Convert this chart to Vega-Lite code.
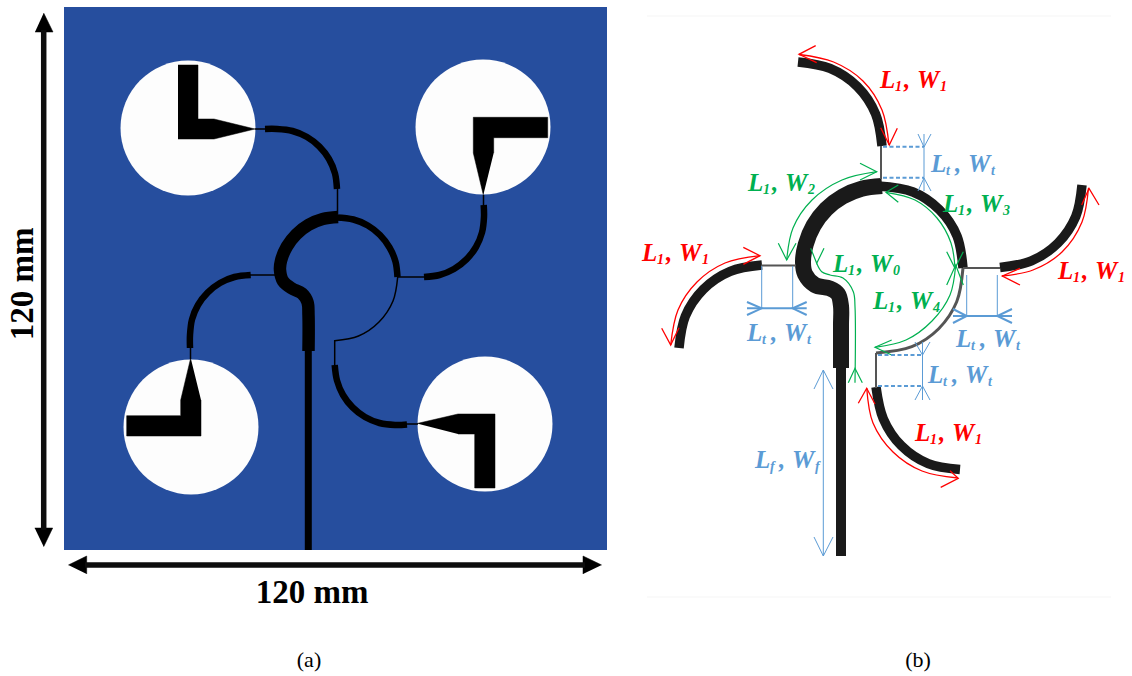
{
"$schema":"https://vega.github.io/schema/vega-lite/v6.json",
"width":1132,"height":676,"padding":0,"autosize":{"type":"none"},
"background":"#ffffff",
"config":{"view":{"stroke":null}},
"datasets":{
"board":[{"x":64,"x2":607,"y":7,"y2":550}],
"discs":[{"x":188,"y":128},{"x":483,"y":127},{"x":191,"y":427},{"x":485,"y":424}],
"shapes":[
{"p":"tl","i":0,"x":178,"y":65},{"p":"tl","i":1,"x":198,"y":65},{"p":"tl","i":2,"x":198,"y":119},{"p":"tl","i":3,"x":214,"y":119},{"p":"tl","i":4,"x":255,"y":129},{"p":"tl","i":5,"x":214,"y":139},{"p":"tl","i":6,"x":178,"y":139},
{"p":"tr","i":0,"x":483.3,"y":195},{"p":"tr","i":1,"x":473.3,"y":153},{"p":"tr","i":2,"x":473.3,"y":117.3},{"p":"tr","i":3,"x":547.7,"y":117.3},{"p":"tr","i":4,"x":547.7,"y":137.7},{"p":"tr","i":5,"x":493.7,"y":137.7},{"p":"tr","i":6,"x":493.7,"y":153},
{"p":"bl","i":0,"x":190.7,"y":358},{"p":"bl","i":1,"x":180.7,"y":400},{"p":"bl","i":2,"x":180.7,"y":415.7},{"p":"bl","i":3,"x":126.7,"y":415.7},{"p":"bl","i":4,"x":126.7,"y":436},{"p":"bl","i":5,"x":201,"y":436},{"p":"bl","i":6,"x":201,"y":400},
{"p":"br","i":0,"x":417,"y":423.5},{"p":"br","i":1,"x":458,"y":414},{"p":"br","i":2,"x":495,"y":414},{"p":"br","i":3,"x":495,"y":488},{"p":"br","i":4,"x":474.7,"y":488},{"p":"br","i":5,"x":474.7,"y":434},{"p":"br","i":6,"x":458,"y":434},
{"p":"au","i":0,"x":43.7,"y":13},{"p":"au","i":1,"x":53,"y":32},{"p":"au","i":2,"x":35,"y":32},
{"p":"ad","i":0,"x":43.7,"y":546.7},{"p":"ad","i":1,"x":52.7,"y":528},{"p":"ad","i":2,"x":34.7,"y":528},
{"p":"al","i":0,"x":68.3,"y":565},{"p":"al","i":1,"x":86.7,"y":556},{"p":"al","i":2,"x":86.7,"y":574},
{"p":"ar","i":0,"x":601.7,"y":565},{"p":"ar","i":1,"x":583,"y":556},{"p":"ar","i":2,"x":583,"y":574}
],
"curves":[
{"p":"a1","k":"a_arc","i":0,"x":265,"y":129},{"p":"a1","k":"a_arc","i":1,"x":277,"y":129},{"p":"a1","k":"a_arc","i":2,"x":292.5,"y":131},{"p":"a1","k":"a_arc","i":3,"x":307,"y":137},{"p":"a1","k":"a_arc","i":4,"x":319.4,"y":146.6},{"p":"a1","k":"a_arc","i":5,"x":329,"y":159},{"p":"a1","k":"a_arc","i":6,"x":335,"y":173.5},{"p":"a1","k":"a_arc","i":7,"x":337,"y":189},
{"p":"a2","k":"a_arc","i":0,"x":483.7,"y":205},{"p":"a2","k":"a_arc","i":1,"x":484,"y":217},{"p":"a2","k":"a_arc","i":2,"x":482,"y":232.5},{"p":"a2","k":"a_arc","i":3,"x":476,"y":247},{"p":"a2","k":"a_arc","i":4,"x":466.4,"y":259.4},{"p":"a2","k":"a_arc","i":5,"x":454,"y":269},{"p":"a2","k":"a_arc","i":6,"x":439.5,"y":275},{"p":"a2","k":"a_arc","i":7,"x":424,"y":277},
{"p":"a3","k":"a_arc","i":0,"x":250.7,"y":275},{"p":"a3","k":"a_arc","i":1,"x":234.5,"y":277},{"p":"a3","k":"a_arc","i":2,"x":220,"y":283},{"p":"a3","k":"a_arc","i":3,"x":207.6,"y":292.6},{"p":"a3","k":"a_arc","i":4,"x":198,"y":305},{"p":"a3","k":"a_arc","i":5,"x":192,"y":319.5},{"p":"a3","k":"a_arc","i":6,"x":190,"y":335},{"p":"a3","k":"a_arc","i":7,"x":190,"y":348},
{"p":"a4","k":"a_arc","i":0,"x":334.7,"y":365},{"p":"a4","k":"a_arc","i":1,"x":337,"y":380.5},{"p":"a4","k":"a_arc","i":2,"x":343,"y":395},{"p":"a4","k":"a_arc","i":3,"x":352.6,"y":407.4},{"p":"a4","k":"a_arc","i":4,"x":365,"y":417},{"p":"a4","k":"a_arc","i":5,"x":379.5,"y":423},{"p":"a4","k":"a_arc","i":6,"x":395,"y":425},{"p":"a4","k":"a_arc","i":7,"x":407,"y":424.5},
{"p":"a5","k":"a_arc","i":0,"x":336,"y":217.5},{"p":"a5","k":"a_arc","i":1,"x":353.4,"y":219.5},{"p":"a5","k":"a_arc","i":2,"x":367.8,"y":225.5},{"p":"a5","k":"a_arc","i":3,"x":380,"y":235},{"p":"a5","k":"a_arc","i":4,"x":389.5,"y":247.5},{"p":"a5","k":"a_arc","i":5,"x":395.5,"y":261.6},{"p":"a5","k":"a_arc","i":6,"x":397.5,"y":277},
{"p":"a6","k":"a_thin","i":0,"x":397.7,"y":277},{"p":"a6","k":"a_thin","i":1,"x":393,"y":301},{"p":"a6","k":"a_thin","i":2,"x":379,"y":322},{"p":"a6","k":"a_thin","i":3,"x":358.5,"y":336},{"p":"a6","k":"a_thin","i":4,"x":334.7,"y":340.7},
{"p":"a7","k":"a_thick","i":0,"x":338,"y":217},{"p":"a7","k":"a_thick","i":1,"x":322.7,"y":219},{"p":"a7","k":"a_thick","i":2,"x":308.5,"y":224.9},{"p":"a7","k":"a_thick","i":3,"x":296.3,"y":234.3},{"p":"a7","k":"a_thick","i":4,"x":286.9,"y":246.5},{"p":"a7","k":"a_thick","i":5,"x":281,"y":260.7},{"p":"a7","k":"a_thick","i":6,"x":280,"y":270},{"p":"a7","k":"a_thick","i":7,"x":283,"y":281},{"p":"a7","k":"a_thick","i":8,"x":292,"y":288.5},{"p":"a7","k":"a_thick","i":9,"x":302,"y":293.5},{"p":"a7","k":"a_thick","i":10,"x":307.5,"y":302},{"p":"a7","k":"a_thick","i":11,"x":308.5,"y":315},{"p":"a7","k":"a_thick","i":12,"x":308.5,"y":351},
{"p":"b1","k":"b_arc","i":0,"x":798,"y":62},{"p":"b1","k":"b_arc","i":1,"x":830,"y":68.4},{"p":"b1","k":"b_arc","i":2,"x":857.4,"y":86.6},{"p":"b1","k":"b_arc","i":3,"x":875.6,"y":114},{"p":"b1","k":"b_arc","i":4,"x":882,"y":146},
{"p":"b2","k":"b_arc","i":0,"x":1082,"y":185},{"p":"b2","k":"b_arc","i":1,"x":1075.8,"y":216.4},{"p":"b2","k":"b_arc","i":2,"x":1058,"y":243},{"p":"b2","k":"b_arc","i":3,"x":1031.4,"y":260.8},{"p":"b2","k":"b_arc","i":4,"x":1000,"y":267.5},
{"p":"b3","k":"b_arc","i":0,"x":876,"y":387},{"p":"b3","k":"b_arc","i":1,"x":883.3,"y":418.8},{"p":"b3","k":"b_arc","i":2,"x":901.3,"y":445.7},{"p":"b3","k":"b_arc","i":3,"x":928.2,"y":463.7},{"p":"b3","k":"b_arc","i":4,"x":960,"y":469.5},
{"p":"b4","k":"b_arc","i":0,"x":679,"y":348},{"p":"b4","k":"b_arc","i":1,"x":685.3,"y":316.2},{"p":"b4","k":"b_arc","i":2,"x":703.3,"y":289.3},{"p":"b4","k":"b_arc","i":3,"x":730.2,"y":271.3},{"p":"b4","k":"b_arc","i":4,"x":762,"y":265},
{"p":"b5","k":"b_arc","i":0,"x":878,"y":186},{"p":"b5","k":"b_arc","i":1,"x":913,"y":192},{"p":"b5","k":"b_arc","i":2,"x":939.3,"y":209.7},{"p":"b5","k":"b_arc","i":3,"x":957,"y":236},{"p":"b5","k":"b_arc","i":4,"x":963,"y":268},
{"p":"b6","k":"b_w4","i":0,"x":963,"y":268},{"p":"b6","k":"b_w4","i":1,"x":956.7,"y":301.8},{"p":"b6","k":"b_w4","i":2,"x":938.7,"y":328.7},{"p":"b6","k":"b_w4","i":3,"x":911.8,"y":346.7},{"p":"b6","k":"b_w4","i":4,"x":876,"y":353},
{"p":"b7","k":"b_ring","i":0,"x":882,"y":186},{"p":"b7","k":"b_ring","i":1,"x":861.6,"y":188.7},{"p":"b7","k":"b_ring","i":2,"x":842.5,"y":196.6},{"p":"b7","k":"b_ring","i":3,"x":826.1,"y":209.1},{"p":"b7","k":"b_ring","i":4,"x":813.6,"y":225.5},{"p":"b7","k":"b_ring","i":5,"x":805.7,"y":244.6},{"p":"b7","k":"b_ring","i":6,"x":803,"y":262},{"p":"b7","k":"b_ring","i":7,"x":805,"y":274},{"p":"b7","k":"b_ring","i":8,"x":815,"y":285},{"p":"b7","k":"b_ring","i":9,"x":830,"y":288.5},{"p":"b7","k":"b_ring","i":10,"x":838,"y":294},{"p":"b7","k":"b_ring","i":11,"x":841,"y":306},{"p":"b7","k":"b_ring","i":12,"x":841,"y":325},{"p":"b7","k":"b_ring","i":13,"x":841,"y":368},
{"p":"r1","k":"red","i":0,"x":799,"y":54.5},{"p":"r1","k":"red","i":1,"x":833.6,"y":62},{"p":"r1","k":"red","i":2,"x":863,"y":81},{"p":"r1","k":"red","i":3,"x":882,"y":110},{"p":"r1","k":"red","i":4,"x":889,"y":145},
{"p":"r2","k":"red","i":0,"x":1088.5,"y":188},{"p":"r2","k":"red","i":1,"x":1082,"y":222},{"p":"r2","k":"red","i":2,"x":1062,"y":252},{"p":"r2","k":"red","i":3,"x":1033,"y":270},{"p":"r2","k":"red","i":4,"x":1002,"y":276},
{"p":"r3","k":"red","i":0,"x":866.7,"y":388},{"p":"r3","k":"red","i":1,"x":873,"y":423},{"p":"r3","k":"red","i":2,"x":893,"y":452},{"p":"r3","k":"red","i":3,"x":922,"y":471},{"p":"r3","k":"red","i":4,"x":958,"y":478},
{"p":"r4","k":"red","i":0,"x":670.7,"y":345},{"p":"r4","k":"red","i":1,"x":678,"y":310},{"p":"r4","k":"red","i":2,"x":697,"y":282},{"p":"r4","k":"red","i":3,"x":725,"y":263},{"p":"r4","k":"red","i":4,"x":760,"y":255.7},
{"p":"g2","k":"green","i":0,"x":786.7,"y":260},{"p":"g2","k":"green","i":1,"x":793,"y":228},{"p":"g2","k":"green","i":2,"x":812,"y":200},{"p":"g2","k":"green","i":3,"x":842,"y":180},{"p":"g2","k":"green","i":4,"x":876.7,"y":171.7},
{"p":"g3","k":"green","i":0,"x":886,"y":192.3},{"p":"g3","k":"green","i":1,"x":915,"y":200},{"p":"g3","k":"green","i":2,"x":937,"y":218},{"p":"g3","k":"green","i":3,"x":951,"y":243},{"p":"g3","k":"green","i":4,"x":955,"y":268},
{"p":"g4","k":"green","i":0,"x":955.7,"y":265},{"p":"g4","k":"green","i":1,"x":950,"y":295},{"p":"g4","k":"green","i":2,"x":932,"y":321},{"p":"g4","k":"green","i":3,"x":906,"y":340},{"p":"g4","k":"green","i":4,"x":875,"y":347.3},
{"p":"g0","k":"green","i":0,"x":816.7,"y":263.3},{"p":"g0","k":"green","i":1,"x":821.7,"y":271.7},{"p":"g0","k":"green","i":2,"x":830,"y":275},{"p":"g0","k":"green","i":3,"x":843,"y":278},{"p":"g0","k":"green","i":4,"x":853.3,"y":291.7},{"p":"g0","k":"green","i":5,"x":855,"y":306.7},{"p":"g0","k":"green","i":6,"x":855,"y":382.7}
],
"straights":[
{"p":"s1","k":"shaft","i":0,"x":43.7,"y":30},{"p":"s1","k":"shaft","i":1,"x":43.7,"y":530},
{"p":"s2","k":"shaft","i":0,"x":85,"y":565},{"p":"s2","k":"shaft","i":1,"x":585,"y":565},
{"p":"t1","k":"a_thin","i":0,"x":255,"y":129},{"p":"t1","k":"a_thin","i":1,"x":266,"y":129},
{"p":"t2","k":"a_thin","i":0,"x":337.5,"y":188},{"p":"t2","k":"a_thin","i":1,"x":337.5,"y":214},
{"p":"t3","k":"a_thin","i":0,"x":483.5,"y":195},{"p":"t3","k":"a_thin","i":1,"x":483.5,"y":206},
{"p":"t4","k":"a_thin","i":0,"x":397,"y":277},{"p":"t4","k":"a_thin","i":1,"x":425,"y":277},
{"p":"t5","k":"a_thin","i":0,"x":250,"y":275},{"p":"t5","k":"a_thin","i":1,"x":275,"y":275},
{"p":"t6","k":"a_thin","i":0,"x":190.5,"y":347},{"p":"t6","k":"a_thin","i":1,"x":190.5,"y":359},
{"p":"t7","k":"a_thin","i":0,"x":334.7,"y":340},{"p":"t7","k":"a_thin","i":1,"x":334.7,"y":366},
{"p":"t8","k":"a_thin","i":0,"x":406,"y":424},{"p":"t8","k":"a_thin","i":1,"x":418,"y":424},
{"p":"f1","k":"a_feed","i":0,"x":308.3,"y":350},{"p":"f1","k":"a_feed","i":1,"x":308.3,"y":550},
{"p":"f2","k":"b_feed","i":0,"x":841,"y":367},{"p":"f2","k":"b_feed","i":1,"x":841,"y":556},
{"p":"u1","k":"b_thin","i":0,"x":881,"y":146},{"p":"u1","k":"b_thin","i":1,"x":881,"y":179},
{"p":"u2","k":"b_thin","i":0,"x":963,"y":268},{"p":"u2","k":"b_thin","i":1,"x":1000,"y":268},
{"p":"u3","k":"b_thin","i":0,"x":876,"y":353},{"p":"u3","k":"b_thin","i":1,"x":876,"y":388},
{"p":"u4","k":"b_thin","i":0,"x":761,"y":265.5},{"p":"u4","k":"b_thin","i":1,"x":796,"y":265.5},
{"p":"fr1","k":"frame","i":0,"x":647,"y":16},{"p":"fr1","k":"frame","i":1,"x":1111,"y":16},
{"p":"fr2","k":"frame","i":0,"x":647,"y":597},{"p":"fr2","k":"frame","i":1,"x":1111,"y":597},
{"p":"h1","k":"red","i":0,"x":815.7,"y":45.7},{"p":"h1","k":"red","i":1,"x":799,"y":54.3},{"p":"h1","k":"red","i":2,"x":816.7,"y":62.7},
{"p":"h2","k":"red","i":0,"x":880.7,"y":127.7},{"p":"h2","k":"red","i":1,"x":889.3,"y":145},{"p":"h2","k":"red","i":2,"x":897.3,"y":128.3},
{"p":"h3","k":"red","i":0,"x":1081.7,"y":205},{"p":"h3","k":"red","i":1,"x":1089,"y":188.3},{"p":"h3","k":"red","i":2,"x":1099,"y":205},
{"p":"h4","k":"red","i":0,"x":1020,"y":268.3},{"p":"h4","k":"red","i":1,"x":1002.3,"y":276},{"p":"h4","k":"red","i":2,"x":1020,"y":285},
{"p":"h5","k":"red","i":0,"x":858.3,"y":403.3},{"p":"h5","k":"red","i":1,"x":866.7,"y":388.3},{"p":"h5","k":"red","i":2,"x":875,"y":404},
{"p":"h6","k":"red","i":0,"x":950,"y":470.7},{"p":"h6","k":"red","i":1,"x":958.3,"y":478.3},{"p":"h6","k":"red","i":2,"x":940.7,"y":487.3},
{"p":"h7","k":"red","i":0,"x":743.3,"y":247.3},{"p":"h7","k":"red","i":1,"x":760,"y":255.7},{"p":"h7","k":"red","i":2,"x":743.3,"y":264.3},
{"p":"h8","k":"red","i":0,"x":661.7,"y":328.3},{"p":"h8","k":"red","i":1,"x":670.7,"y":345},{"p":"h8","k":"red","i":2,"x":679,"y":327.7},
{"p":"j1","k":"green","i":0,"x":860,"y":163.3},{"p":"j1","k":"green","i":1,"x":876.7,"y":171.7},{"p":"j1","k":"green","i":2,"x":860,"y":180},
{"p":"j2","k":"green","i":0,"x":778.3,"y":243.3},{"p":"j2","k":"green","i":1,"x":786.7,"y":260},{"p":"j2","k":"green","i":2,"x":796,"y":243.3},
{"p":"j3","k":"green","i":0,"x":898.3,"y":185},{"p":"j3","k":"green","i":1,"x":886,"y":192.3},{"p":"j3","k":"green","i":2,"x":898.3,"y":202.3},
{"p":"j4","k":"green","i":0,"x":946.7,"y":251.7},{"p":"j4","k":"green","i":1,"x":955,"y":268.3},{"p":"j4","k":"green","i":2,"x":963.3,"y":251.7},
{"p":"j5","k":"green","i":0,"x":946.7,"y":285},{"p":"j5","k":"green","i":1,"x":955.7,"y":265},{"p":"j5","k":"green","i":2,"x":963.3,"y":285},
{"p":"j6","k":"green","i":0,"x":891.7,"y":340},{"p":"j6","k":"green","i":1,"x":875,"y":347.3},{"p":"j6","k":"green","i":2,"x":891.7,"y":355},
{"p":"j7","k":"green","i":0,"x":810.7,"y":248.3},{"p":"j7","k":"green","i":1,"x":816.7,"y":263.3},{"p":"j7","k":"green","i":2,"x":824,"y":248.3},
{"p":"j8","k":"green","i":0,"x":848.3,"y":382.7},{"p":"j8","k":"green","i":1,"x":855,"y":368.3},{"p":"j8","k":"green","i":2,"x":862.3,"y":382.7},
{"p":"v1","k":"blue","i":0,"x":924,"y":134},{"p":"v1","k":"blue","i":1,"x":924,"y":191},
{"p":"c1","k":"blue","i":0,"x":918,"y":134},{"p":"c1","k":"blue","i":1,"x":924,"y":147},{"p":"c1","k":"blue","i":2,"x":931,"y":134},
{"p":"c2","k":"blue","i":0,"x":918,"y":191},{"p":"c2","k":"blue","i":1,"x":924,"y":178},{"p":"c2","k":"blue","i":2,"x":931,"y":191},
{"p":"v2","k":"blue","i":0,"x":922.5,"y":342},{"p":"v2","k":"blue","i":1,"x":922.5,"y":400},
{"p":"c3","k":"blue","i":0,"x":915,"y":342},{"p":"c3","k":"blue","i":1,"x":922.5,"y":355},{"p":"c3","k":"blue","i":2,"x":930,"y":342},
{"p":"c4","k":"blue","i":0,"x":915,"y":400},{"p":"c4","k":"blue","i":1,"x":922.5,"y":386},{"p":"c4","k":"blue","i":2,"x":930,"y":400},
{"p":"v3","k":"blue","i":0,"x":761.7,"y":266},{"p":"v3","k":"blue","i":1,"x":761.7,"y":308},
{"p":"v4","k":"blue","i":0,"x":792.7,"y":266},{"p":"v4","k":"blue","i":1,"x":792.7,"y":308},
{"p":"v5","k":"blue","i":0,"x":966.7,"y":275},{"p":"v5","k":"blue","i":1,"x":966.7,"y":316},
{"p":"v6","k":"blue","i":0,"x":997.3,"y":275},{"p":"v6","k":"blue","i":1,"x":997.3,"y":316},
{"p":"w1","k":"blue2","i":0,"x":747,"y":308.3},{"p":"w1","k":"blue2","i":1,"x":806.7,"y":308.3},
{"p":"w2","k":"blue2","i":0,"x":747,"y":302},{"p":"w2","k":"blue2","i":1,"x":761.7,"y":308.3},{"p":"w2","k":"blue2","i":2,"x":747,"y":315},
{"p":"w3","k":"blue2","i":0,"x":806.7,"y":302},{"p":"w3","k":"blue2","i":1,"x":792.7,"y":308.3},{"p":"w3","k":"blue2","i":2,"x":806.7,"y":315},
{"p":"w4","k":"blue2","i":0,"x":953,"y":316},{"p":"w4","k":"blue2","i":1,"x":1012,"y":316},
{"p":"w5","k":"blue2","i":0,"x":953,"y":309},{"p":"w5","k":"blue2","i":1,"x":966.7,"y":316},{"p":"w5","k":"blue2","i":2,"x":953,"y":323},
{"p":"w6","k":"blue2","i":0,"x":1012,"y":309},{"p":"w6","k":"blue2","i":1,"x":997.3,"y":316},{"p":"w6","k":"blue2","i":2,"x":1012,"y":323},
{"p":"l1","k":"blue","i":0,"x":823.3,"y":370},{"p":"l1","k":"blue","i":1,"x":823.3,"y":556},
{"p":"l2","k":"blue","i":0,"x":814,"y":389},{"p":"l2","k":"blue","i":1,"x":823.3,"y":370},{"p":"l2","k":"blue","i":2,"x":833,"y":389},
{"p":"l3","k":"blue","i":0,"x":814,"y":537},{"p":"l3","k":"blue","i":1,"x":823.3,"y":556},{"p":"l3","k":"blue","i":2,"x":833,"y":537}
],
"dashes":[
{"p":"d1","i":0,"x":883,"y":146.7},{"p":"d1","i":1,"x":924,"y":146.7},
{"p":"d2","i":0,"x":883,"y":177.7},{"p":"d2","i":1,"x":924,"y":177.7},
{"p":"d3","i":0,"x":878,"y":355},{"p":"d3","i":1,"x":922.5,"y":355},
{"p":"d4","i":0,"x":878,"y":386},{"p":"d4","i":1,"x":922.5,"y":386}
],
"labels":[
{"k":"red","r":"main","t":"L","x":880,"y":88},{"k":"red","r":"sub","t":"1","x":895,"y":91},{"k":"red","r":"main","t":",","x":904,"y":88},{"k":"red","r":"main","t":"W","x":917,"y":88},{"k":"red","r":"sub","t":"1","x":940,"y":91},
{"k":"red","r":"main","t":"L","x":1058,"y":279},{"k":"red","r":"sub","t":"1","x":1073,"y":282},{"k":"red","r":"main","t":",","x":1082,"y":279},{"k":"red","r":"main","t":"W","x":1095,"y":279},{"k":"red","r":"sub","t":"1","x":1118,"y":282},
{"k":"red","r":"main","t":"L","x":642,"y":261},{"k":"red","r":"sub","t":"1","x":657,"y":264},{"k":"red","r":"main","t":",","x":666,"y":261},{"k":"red","r":"main","t":"W","x":679,"y":261},{"k":"red","r":"sub","t":"1","x":702,"y":264},
{"k":"red","r":"main","t":"L","x":915,"y":441},{"k":"red","r":"sub","t":"1","x":930,"y":444},{"k":"red","r":"main","t":",","x":939,"y":441},{"k":"red","r":"main","t":"W","x":952,"y":441},{"k":"red","r":"sub","t":"1","x":975,"y":444},
{"k":"green","r":"main","t":"L","x":748,"y":191},{"k":"green","r":"sub","t":"1","x":763,"y":194},{"k":"green","r":"main","t":",","x":772,"y":191},{"k":"green","r":"main","t":"W","x":785,"y":191},{"k":"green","r":"sub","t":"2","x":808,"y":194},
{"k":"green","r":"main","t":"L","x":943,"y":212},{"k":"green","r":"sub","t":"1","x":958,"y":215},{"k":"green","r":"main","t":",","x":967,"y":212},{"k":"green","r":"main","t":"W","x":980,"y":212},{"k":"green","r":"sub","t":"3","x":1003,"y":215},
{"k":"green","r":"main","t":"L","x":833,"y":272},{"k":"green","r":"sub","t":"1","x":848,"y":275},{"k":"green","r":"main","t":",","x":857,"y":272},{"k":"green","r":"main","t":"W","x":870,"y":272},{"k":"green","r":"sub","t":"0","x":893,"y":275},
{"k":"green","r":"main","t":"L","x":873,"y":309},{"k":"green","r":"sub","t":"1","x":888,"y":312},{"k":"green","r":"main","t":",","x":897,"y":309},{"k":"green","r":"main","t":"W","x":910,"y":309},{"k":"green","r":"sub","t":"4","x":933,"y":312},
{"k":"blue","r":"main","t":"L","x":931,"y":172},{"k":"blue","r":"sub","t":"t","x":946,"y":175},{"k":"blue","r":"main","t":",","x":955,"y":172},{"k":"blue","r":"main","t":"W","x":968,"y":172},{"k":"blue","r":"sub","t":"t","x":991,"y":175},
{"k":"blue","r":"main","t":"L","x":928,"y":383},{"k":"blue","r":"sub","t":"t","x":943,"y":386},{"k":"blue","r":"main","t":",","x":952,"y":383},{"k":"blue","r":"main","t":"W","x":965,"y":383},{"k":"blue","r":"sub","t":"t","x":988,"y":386},
{"k":"blue","r":"main","t":"L","x":747,"y":341},{"k":"blue","r":"sub","t":"t","x":762,"y":344},{"k":"blue","r":"main","t":",","x":771,"y":341},{"k":"blue","r":"main","t":"W","x":784,"y":341},{"k":"blue","r":"sub","t":"t","x":807,"y":344},
{"k":"blue","r":"main","t":"L","x":956,"y":347},{"k":"blue","r":"sub","t":"t","x":971,"y":350},{"k":"blue","r":"main","t":",","x":980,"y":347},{"k":"blue","r":"main","t":"W","x":993,"y":347},{"k":"blue","r":"sub","t":"t","x":1016,"y":350},
{"k":"blue","r":"main","t":"L","x":755,"y":468},{"k":"blue","r":"sub","t":"f","x":770,"y":471},{"k":"blue","r":"main","t":",","x":779,"y":468},{"k":"blue","r":"main","t":"W","x":792,"y":468},{"k":"blue","r":"sub","t":"f","x":815,"y":471}
]
},
"encoding":{
"x":{"field":"x","type":"quantitative","scale":{"domain":[0,1132],"nice":false,"zero":false},"axis":null},
"y":{"field":"y","type":"quantitative","scale":{"domain":[0,676],"nice":false,"zero":false,"reverse":true},"axis":null}
},
"resolve":{"scale":{"color":"shared"}},
"layer":[
{"data":{"name":"board"},"mark":{"type":"rect","fill":"#264e9e"},"encoding":{"x2":{"field":"x2"},"y2":{"field":"y2"}}},
{"data":{"name":"discs"},"mark":{"type":"point","shape":"circle","filled":true,"fill":"#fdfdfd","stroke":null,"opacity":1,"size":18225}},
{"data":{"name":"shapes"},"mark":{"type":"line","fill":"#000000","stroke":"#000000","strokeWidth":0.5},"encoding":{"detail":{"field":"p"},"order":{"field":"i","type":"quantitative"}}},
{"data":{"name":"curves"},"mark":{"type":"line","interpolate":"catmull-rom","strokeCap":"butt"},"encoding":{
"detail":{"field":"p"},"order":{"field":"i","type":"quantitative"},
"color":{"field":"k","type":"nominal","legend":null,"scale":{"domain":["a_arc","a_thin","a_thick","a_feed","shaft","b_arc","b_ring","b_feed","b_w4","b_thin","frame","red","green","blue","blue2"],"range":["#000000","#000000","#000000","#000000","#0d0d0d","#1a1a1a","#1a1a1a","#1a1a1a","#555555","#555555","#f5f5f5","#ff0000","#00b050","#5b9bd5","#5b9bd5"]}},
"strokeWidth":{"field":"k","type":"nominal","legend":null,"scale":{"type":"ordinal","domain":["a_arc","a_thin","a_thick","a_feed","shaft","b_arc","b_ring","b_feed","b_w4","b_thin","frame","red","green","blue","blue2"],"range":[6.5,1.5,12.5,7,5.5,9.5,16,10,3,2,1,1.3,1.2,1,2]}}}},
{"data":{"name":"straights"},"mark":{"type":"line","strokeCap":"butt","strokeJoin":"miter"},"encoding":{
"detail":{"field":"p"},"order":{"field":"i","type":"quantitative"},
"color":{"field":"k","type":"nominal","legend":null},
"strokeWidth":{"field":"k","type":"nominal","legend":null,"scale":{"type":"ordinal"}}}},
{"data":{"name":"dashes"},"mark":{"type":"line","stroke":"#5b9bd5","strokeWidth":2,"strokeDash":[4,2.5]},"encoding":{"detail":{"field":"p"},"order":{"field":"i","type":"quantitative"}}},
{"data":{"name":"labels"},"mark":{"type":"text","font":"Liberation Serif","fontWeight":"bold","fontStyle":"italic","align":"left","baseline":"alphabetic"},"encoding":{
"text":{"field":"t"},
"color":{"field":"k","type":"nominal","legend":null},
"size":{"field":"r","type":"nominal","legend":null,"scale":{"type":"ordinal","domain":["main","sub"],"range":[25,14]}}}},
{"data":{"values":[{"t":"120 mm","x":312,"y":603}]},"mark":{"type":"text","font":"Liberation Serif","fontWeight":"bold","fontSize":33,"align":"center","baseline":"alphabetic","fill":"#000000"},"encoding":{"text":{"field":"t"}}},
{"data":{"values":[{"t":"120 mm","x":33,"y":284}]},"mark":{"type":"text","font":"Liberation Serif","fontWeight":"bold","fontSize":33,"align":"center","baseline":"alphabetic","angle":270,"fill":"#000000"},"encoding":{"text":{"field":"t"}}},
{"data":{"values":[{"t":"(a)","x":309,"y":667},{"t":"(b)","x":918,"y":667}]},"mark":{"type":"text","font":"Liberation Serif","fontSize":22,"align":"center","baseline":"alphabetic","fill":"#000000"},"encoding":{"text":{"field":"t"}}}
]
}
